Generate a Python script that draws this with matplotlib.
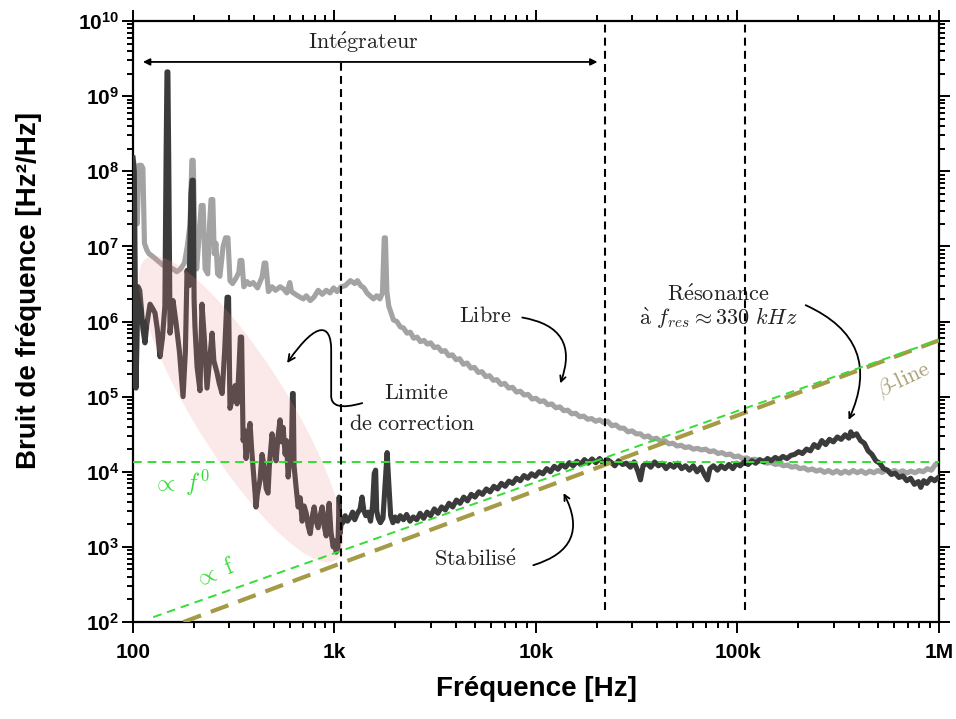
import numpy as np
import matplotlib
matplotlib.use("Agg")
import matplotlib.pyplot as plt
from matplotlib.patches import Ellipse, FancyArrowPatch
from matplotlib.path import Path
from matplotlib.ticker import FixedLocator, FixedFormatter, LogLocator, NullFormatter, FuncFormatter
from matplotlib.transforms import ScaledTranslation

plt.rcParams['font.family'] = ['Liberation Sans', 'DejaVu Sans']
plt.rcParams['mathtext.fontset'] = 'custom'
plt.rcParams['mathtext.rm'] = 'Liberation Sans:bold'
plt.rcParams['mathtext.bf'] = 'Liberation Sans:bold'
plt.rcParams['mathtext.it'] = 'Liberation Sans:italic'

# --- free running laser ("Libre"), grey curve
libre_f = [100, 101.5, 103, 105, 107, 110, 112, 114, 117, 120, 124, 128, 132, 137, 141, 146,
           152, 158, 165, 172, 180, 186, 192, 196, 199, 202, 207, 211, 218, 223, 228, 235,
           240, 244, 249, 253, 258, 263, 270, 280, 288, 296, 303, 312, 325, 335, 340, 347,
           355, 368, 380, 395, 415, 437, 448, 456, 470, 490, 510, 537, 560, 580, 600, 612,
           640, 676, 700, 725, 758, 790, 830, 870, 910, 950, 990, 1030, 1080, 1130, 1200, 1260,
           1300, 1350, 1400, 1450, 1500, 1560, 1620, 1680, 1730, 1766, 1790, 1820, 1860, 1910, 1960, 2040,
           2120, 2200, 2290, 2380, 2470, 2570, 2670, 2780, 2890, 3000, 3130, 3260, 3400, 3540, 3690, 3850,
           4010, 4180, 4360, 4550, 4750, 4950, 5170, 5390, 5630, 5880, 6140, 6410, 6700, 7000, 7320, 7650,
           8000, 8360, 8740, 9140, 9560, 10000, 10460, 10940, 11450, 11980, 12540, 13130, 13740, 14380, 15050, 15750,
           16480, 17250, 18050, 18890, 19770, 20700, 21700, 22700, 23800, 24900, 26100, 27300, 28600, 30000, 31400, 32900,
           34500, 36100, 37800, 39600, 41500, 43500, 45600, 47800, 50100, 52500, 55000, 57600, 60400, 63300, 66300, 69500,
           72800, 76300, 80000, 83800, 87800, 92000, 96400, 101000, 106000, 111000, 116000, 122000, 128000, 134000, 140000, 147000,
           154000, 161000, 169000, 177000, 186000, 195000, 204000, 214000, 224000, 235000, 246000, 258000, 270000, 283000, 297000, 311000,
           326000, 342000, 358000, 375000, 393000, 412000, 432000, 453000, 475000, 498000, 522000, 547000, 573000, 601000, 630000, 660000,
           692000, 725000, 760000, 797000, 835000, 875000, 917000, 960000, 1000000]
libre_v = [1.5e8, 1.2e8, 5e7, 2e7, 1.2e8, 1.2e8, 1.1e8, 1.1e7, 9e6, 8e6, 7.5e6, 7e6, 6.5e6, 6e6, 5.6e6, 5.5e6,
           5.3e6, 5e6, 4.6e6, 5e6, 6e6, 1e7, 2e7, 1.4e8, 1.4e8, 2e7, 5e6, 1e7, 3.5e7, 3.5e7, 5e6, 4.3e6,
           2e7, 4.2e7, 4.2e7, 8e6, 1.1e7, 4.3e6, 4e6, 1e7, 1.3e7, 1.3e7, 3.5e6, 3.2e6, 3.8e6, 4.5e6, 6.5e6, 6.5e6,
           2.9e6, 3.4e6, 3.1e6, 3.3e6, 2.8e6, 3.9e6, 6e6, 6e6, 2.5e6, 2.9e6, 2.6e6, 2.9e6, 2.7e6, 2.4e6, 3.3e6, 2.5e6,
           2.3e6, 2.1e6, 2.0e6, 2.2e6, 1.9e6, 2.1e6, 2.6e6, 2.3e6, 2.6e6, 2.4e6, 2.8e6, 2.5e6, 2.9e6, 3.0e6, 3.5e6, 3.2e6,
           3.5e6, 3.0e6, 2.8e6, 2.4e6, 2.2e6, 2.0e6, 2.2e6, 2.0e6, 2.4e6, 1.3e7, 1.3e7, 2.5e6, 1.6e6, 1.3e6, 1.05e6, 1.0e6,
           8.5e5, 8.2e5, 7.0e5, 7.2e5, 6.0e5, 6.2e5, 5.4e5, 5.6e5, 5.0e5, 5.2e5, 4.5e5, 4.6e5, 4.0e5, 4.1e5, 3.5e5, 3.6e5,
           3.1e5, 3.2e5, 2.7e5, 2.8e5, 2.4e5, 2.45e5, 2.1e5, 2.15e5, 1.85e5, 1.9e5, 1.65e5, 1.68e5, 1.45e5, 1.5e5, 1.3e5, 1.33e5,
           1.15e5, 1.18e5, 1.05e5, 1.07e5, 9.3e4, 9.5e4, 8.6e4, 8.8e4, 7.8e4, 8.0e4, 7.1e4, 7.3e4, 6.5e4, 6.6e4, 5.9e4, 6.0e4,
           5.4e4, 5.5e4, 5.0e4, 5.1e4, 4.7e4, 4.9e4, 4.5e4, 4.7e4, 4.1e4, 4.2e4, 3.8e4, 3.8e4, 3.4e4, 3.5e4, 3.2e4, 3.2e4,
           2.9e4, 3.0e4, 2.7e4, 2.8e4, 2.55e4, 2.6e4, 2.35e4, 2.4e4, 2.2e4, 2.25e4, 2.1e4, 2.15e4, 2.0e4, 2.05e4, 1.95e4, 2.0e4,
           1.85e4, 1.9e4, 1.75e4, 1.8e4, 1.68e4, 1.72e4, 1.58e4, 1.62e4, 1.5e4, 1.53e4, 1.44e4, 1.47e4, 1.38e4, 1.4e4, 1.3e4, 1.33e4,
           1.25e4, 1.28e4, 1.2e4, 1.23e4, 1.15e4, 1.18e4, 1.1e4, 1.13e4, 1.05e4, 1.09e4, 1.02e4, 1.06e4, 9.8e3, 1.04e4, 9.6e3, 1.03e4,
           9.5e3, 1.02e4, 9.6e3, 1.04e4, 9.7e3, 1.03e4, 9.5e3, 1.02e4, 9.7e3, 1.04e4, 9.8e3, 1.05e4, 9.8e3, 1.04e4, 9.7e3, 1.03e4,
           9.6e3, 1.02e4, 9.7e3, 1.04e4, 1.0e4, 1.1e4, 1.05e4, 1.25e4, 1.3e4]

# --- stabilised laser ("Stabilisé"), dark curve
stab_f = [100, 101.5, 102.5, 103.5, 105, 106, 108, 110, 112, 114.7, 117, 121.5, 125, 128.6, 132, 136.2,
          140, 144, 146, 147.5, 149, 150.5, 152.7, 158, 163.6, 170, 177.2, 182, 185.5, 190, 194, 196.4,
          199, 201, 203, 208, 215, 220, 226, 233, 240, 247, 252, 261, 268, 277, 285, 293,
          298, 303, 310, 321, 328.6, 336, 341, 346, 352, 358, 364, 372, 381, 388, 395, 404,
          408, 414, 427, 437, 447, 458, 468, 475, 490, 502, 513, 525, 537, 546, 556, 569,
          578, 589, 600, 612, 619, 624, 630, 645, 660, 676, 691, 707, 724, 740, 758, 775,
          793, 811, 830, 849, 869, 889, 910, 925, 941, 960, 985, 1002, 1020, 1040, 1055, 1065,
          1080, 1100, 1130, 1160, 1200, 1230, 1260, 1300, 1340, 1370, 1400, 1430, 1470, 1510, 1545, 1575,
          1600, 1620, 1650, 1690, 1740, 1790, 1825, 1860, 1900, 1950, 2000, 2060, 2120, 2200, 2280, 2370,
          2460, 2560, 2660, 2770, 2880, 3000, 3130, 3260, 3400, 3550, 3700, 3860, 4030, 4200, 4380, 4570,
          4770, 4980, 5200, 5430, 5670, 5920, 6180, 6450, 6730, 7030, 7340, 7660, 8000, 8350, 8720, 9100,
          9500, 9920, 10360, 10820, 11300, 11800, 12320, 12860, 13430, 14020, 14640, 15290, 15960, 16660, 17400, 18170,
          18970, 19800, 20700, 21600, 22600, 23500, 24600, 25700, 26900, 28100, 29400, 30700, 32100, 33000, 34000, 35500,
          37100, 38800, 40500, 42300, 44200, 46200, 48300, 50500, 52800, 55200, 57700, 60300, 63000, 65800, 68800, 71000,
          73000, 76000, 79500, 83000, 86800, 90700, 94800, 99000, 103000, 108000, 113000, 118000, 123000, 129000, 135000, 141000,
          147000, 154000, 161000, 168000, 176000, 184000, 192000, 201000, 210000, 220000, 230000, 240000, 251000, 262000, 274000, 286000,
          299000, 313000, 327000, 342000, 357000, 365000, 373000, 390000, 408000, 426000, 445000, 465000, 486000, 508000, 531000, 555000,
          580000, 606000, 633000, 662000, 692000, 723000, 755000, 790000, 812000, 840000, 870000, 910000, 950000, 1000000]
stab_v = [1.5e8, 1.0e8, 5e6, 1.3e5, 8e5, 2.9e6, 2.6e6, 1.5e6, 8e5, 5.2e5, 9e5, 1.7e6, 1.5e6, 1.3e6, 8e5, 3.4e5,
          6e5, 1.6e6, 1.5e8, 2.1e9, 2.1e9, 1.2e8, 7e5, 1.9e6, 9.5e5, 4e5, 1e5, 4e5, 4.8e6, 3e6, 5e7, 7.6e7,
          7.6e7, 2e6, 8.6e5, 2.5e5, 1.2e5, 1.7e6, 6e5, 1.3e5, 3e5, 7e5, 3e5, 2.1e5, 1.5e5, 1.1e5, 4e5, 2.1e6,
          2.1e6, 7e4, 9e4, 1.4e5, 8e4, 2.5e5, 6.2e5, 6.2e5, 2.6e4, 3.5e4, 1.5e4, 3e4, 4.4e4, 2e4, 1.1e4, 5e3,
          3.4e3, 5e3, 7.8e3, 1.7e4, 1.2e4, 6e3, 5.2e3, 1.2e4, 3.2e4, 2e4, 1.4e4, 3e4, 4.9e4, 2.5e4, 3.9e4, 1.7e4,
          2.6e4, 8.5e3, 1.5e4, 2.2e4, 1.1e5, 1.1e5, 1.2e4, 6.2e3, 3.4e3, 4.5e3, 2.2e3, 3.5e3, 2.8e3, 1.9e3, 1.5e3, 2.5e3,
          3.4e3, 2.2e3, 1.8e3, 2.6e3, 3.4e3, 1.9e3, 1.4e3, 2.5e3, 3.8e3, 1.6e3, 1.0e3, 1.2e3, 850, 1.0e3, 4.6e3, 1.5e3,
          2.1e3, 2.1e3, 2.6e3, 2.2e3, 2.5e3, 2.9e3, 2.3e3, 2.8e3, 3.2e3, 4.6e3, 3.0e3, 2.6e3, 2.9e3, 2.2e3, 3.5e3, 9.5e3,
          1.05e4, 3.0e3, 2.4e3, 2.1e3, 2.4e3, 8e3, 1.8e4, 7e3, 2.6e3, 2.1e3, 2.5e3, 2.2e3, 2.6e3, 2.3e3, 2.7e3, 2.2e3,
          2.5e3, 2.3e3, 2.8e3, 2.4e3, 2.9e3, 2.6e3, 3.2e3, 2.8e3, 3.4e3, 3.1e3, 3.8e3, 3.4e3, 4.2e3, 3.8e3, 4.6e3, 4.1e3,
          5.0e3, 4.6e3, 5.4e3, 5.0e3, 5.9e3, 5.4e3, 6.4e3, 5.9e3, 7.0e3, 6.4e3, 7.5e3, 7.0e3, 8.2e3, 7.6e3, 8.9e3, 8.2e3,
          9.4e3, 8.7e3, 1.0e4, 9.4e3, 1.1e4, 1.0e4, 1.18e4, 1.08e4, 1.25e4, 1.15e4, 1.32e4, 1.2e4, 1.38e4, 1.25e4, 1.45e4, 1.3e4,
          1.48e4, 1.32e4, 1.5e4, 1.28e4, 1.45e4, 1.35e4, 1.2e4, 1.4e4, 1.25e4, 1.3e4, 1.15e4, 1.35e4, 1.0e4, 7.8e3, 1.2e4, 1.3e4,
          1.15e4, 1.35e4, 1.2e4, 1.3e4, 1.1e4, 1.25e4, 1.15e4, 1.3e4, 1.1e4, 1.2e4, 1.05e4, 1.2e4, 1.0e4, 1.15e4, 9e3, 7.8e3,
          1.1e4, 1.2e4, 1.05e4, 1.2e4, 1.1e4, 1.25e4, 1.1e4, 1.3e4, 1.2e4, 1.35e4, 1.25e4, 1.4e4, 1.3e4, 1.45e4, 1.35e4, 1.5e4,
          1.4e4, 1.55e4, 1.45e4, 1.6e4, 1.5e4, 1.65e4, 1.7e4, 1.85e4, 1.75e4, 2.0e4, 1.9e4, 2.3e4, 2.1e4, 2.6e4, 2.3e4, 2.7e4,
          2.5e4, 2.9e4, 2.7e4, 3.1e4, 2.8e4, 3.4e4, 3.0e4, 3.2e4, 2.6e4, 2.4e4, 1.9e4, 1.7e4, 1.4e4, 1.3e4, 1.1e4, 1.05e4,
          9.2e3, 9.6e3, 8.4e3, 8.8e3, 7.6e3, 8.2e3, 6.8e3, 7.4e3, 6.2e3, 7.6e3, 7.0e3, 8.2e3, 7.6e3, 8.5e3]

# guide lines (end points)
flat_level = 1.34e4
propf_x = [126, 1e6]
propf_y = [116, 5.7e5]
beta_x = [178, 1e6]
beta_y = [100, 5.62e5]
vlines_x = [1080, 21900, 109000]
vlines_top = [2.85e9, 1e10, 1e10]
vlines_bot = [1e2, 1.44e2, 1.44e2]

xticks = [1e2, 1e3, 1e4, 1e5, 1e6]
xtick_labels = ['100', '1k', '10k', '100k', '1M']

fig = plt.figure(figsize=(9.56, 7.19), dpi=100)
ax = fig.add_axes([0.1391, 0.1349, 0.8431, 0.8359])
ax.set_xscale('log')
ax.set_yscale('log')
ax.set_xlim(1e2, 1e6)
ax.set_ylim(1e2, 1e10)

ax.plot(libre_f, libre_v, color='#a3a3a3', lw=3.7, zorder=2, solid_joinstyle='round')
ax.plot(stab_f, stab_v, color='#3b3b3b', lw=3.7, zorder=3, solid_joinstyle='round')

# guides
ax.plot(beta_x, beta_y, color='#a59a45', lw=3.0, dashes=(4.5, 2.5), zorder=4)
ax.axhline(flat_level, color='#35dd35', lw=1.4, dashes=(4.5, 3), zorder=5)
ax.plot(propf_x, propf_y, color='#35dd35', lw=1.4, dashes=(4.5, 3), zorder=5)
for x, t, b in zip(vlines_x, vlines_top, vlines_bot):
    ax.plot([x, x], [b, t], color='k', lw=1.5, dashes=(3.8, 2.5), zorder=6)

# pink zone of correction limit
ell = Ellipse((0, 0), 3.56, 0.94, angle=-58, facecolor=(0.93, 0.55, 0.55), alpha=0.2,
              edgecolor='none', zorder=4,
              transform=fig.dpi_scale_trans + ScaledTranslation(344, 6.8e4, ax.transData))
ax.add_patch(ell)

# annotations (Computer Modern look)
tk = dict(math_fontfamily='cm', fontsize=16, color='#222222', ha='center', va='center')
ax.text(1389, 5.25e9, r'$\mathrm{Int\acute{e}grateur}$', **tk)
ax.annotate('', xy=(112, 2.85e9), xytext=(20200, 2.85e9),
            arrowprops=dict(arrowstyle='<|-|>', lw=1.3, color='k', mutation_scale=10, shrinkA=0, shrinkB=0))

ax.text(5600, 1.15e6, r'$\mathrm{Libre}$', **tk)
ax.annotate('', xy=(13200, 1.5e5), xytext=(8550, 1.13e6),
            arrowprops=dict(arrowstyle='->', lw=1.3, color='k', connectionstyle='arc3,rad=-0.6',
                            shrinkA=0, shrinkB=0))

ax.text(2550, 1.11e5, r'$\mathrm{Limite}$', **tk)
ax.text(2430, 4.3e4, r'$\mathrm{de\ correction}$', **tk)
lim_path = Path([(1373, 8.2e4), (952, 6.2e4), (963, 1.05e5), (963, 4.2e5),
                 (963, 9e5), (830, 1.1e6), (582, 2.8e5)],
                [Path.MOVETO, Path.CURVE3, Path.CURVE3, Path.LINETO,
                 Path.CURVE4, Path.CURVE4, Path.CURVE4])
ax.add_patch(FancyArrowPatch(path=lim_path, arrowstyle='->', lw=1.3, color='k', mutation_scale=12, zorder=7))

ax.text(5000, 665, r'$\mathrm{Stabilis\acute{e}}$', **tk)
ax.annotate('', xy=(13700, 5.2e3), xytext=(9700, 570),
            arrowprops=dict(arrowstyle='->', lw=1.3, color='k', connectionstyle='arc3,rad=0.6',
                            shrinkA=0, shrinkB=0))

ax.text(80500, 2.25e6, r'$\mathrm{R\acute{e}sonance}$', **tk)
ax.text(80500, 1.08e6, r'$\mathrm{\grave{a}}\ f_{res} \approx 330\ kHz$', **tk)
ax.annotate('', xy=(356000, 4.9e4), xytext=(218000, 1.65e6),
            arrowprops=dict(arrowstyle='->', lw=1.3, color='k', connectionstyle='arc3,rad=-0.5',
                            shrinkA=0, shrinkB=0))

ax.text(668000, 1.66e5, r'$\beta\text{-line}$', math_fontfamily='cm', fontsize=16,
        color='#aaa274', ha='center', va='center', rotation=25)
ax.text(173, 7.0e3, r'$\propto\ f^0$', math_fontfamily='cm', fontsize=17,
        color='#35dd35', ha='center', va='center')
ax.text(255, 447, r'$\propto\ \mathrm{f}$', math_fontfamily='cm', fontsize=17,
        color='#35dd35', ha='center', va='center', rotation=22)

# axes styling
ax.xaxis.set_major_locator(FixedLocator(xticks))
ax.xaxis.set_major_formatter(FixedFormatter(xtick_labels))
ax.xaxis.set_minor_locator(LogLocator(base=10, subs=np.arange(2, 10), numticks=50))
ax.xaxis.set_minor_formatter(NullFormatter())
ax.yaxis.set_major_locator(LogLocator(base=10, numticks=20))
ax.yaxis.set_major_formatter(FuncFormatter(lambda v, p: r'$\mathbf{10^{%d}}$' % round(np.log10(v))))
ax.yaxis.set_minor_locator(FixedLocator([m * 10.0 ** e for e in range(2, 10) for m in range(2, 10)]))
ax.yaxis.set_minor_formatter(NullFormatter())

ax.tick_params(which='both', direction='out', top=True, right=True, width=1.4)
ax.tick_params(which='major', length=8)
ax.tick_params(which='minor', length=4.5)
ax.tick_params(axis='x', which='major', pad=7, labelsize=15)
ax.tick_params(axis='y', which='major', pad=2, labelsize=15)
for lab in ax.get_xticklabels():
    lab.set_fontweight('bold')
for sp in ax.spines.values():
    sp.set_linewidth(1.6)

ax.set_xlabel('Fréquence [Hz]', fontsize=20, fontweight='bold', labelpad=10)
ax.set_ylabel('Bruit de fréquence [Hz²/Hz]', fontsize=20, fontweight='bold')
ax.yaxis.set_label_coords(-0.113, 0.552)

fig.savefig('out.png', dpi=100)
